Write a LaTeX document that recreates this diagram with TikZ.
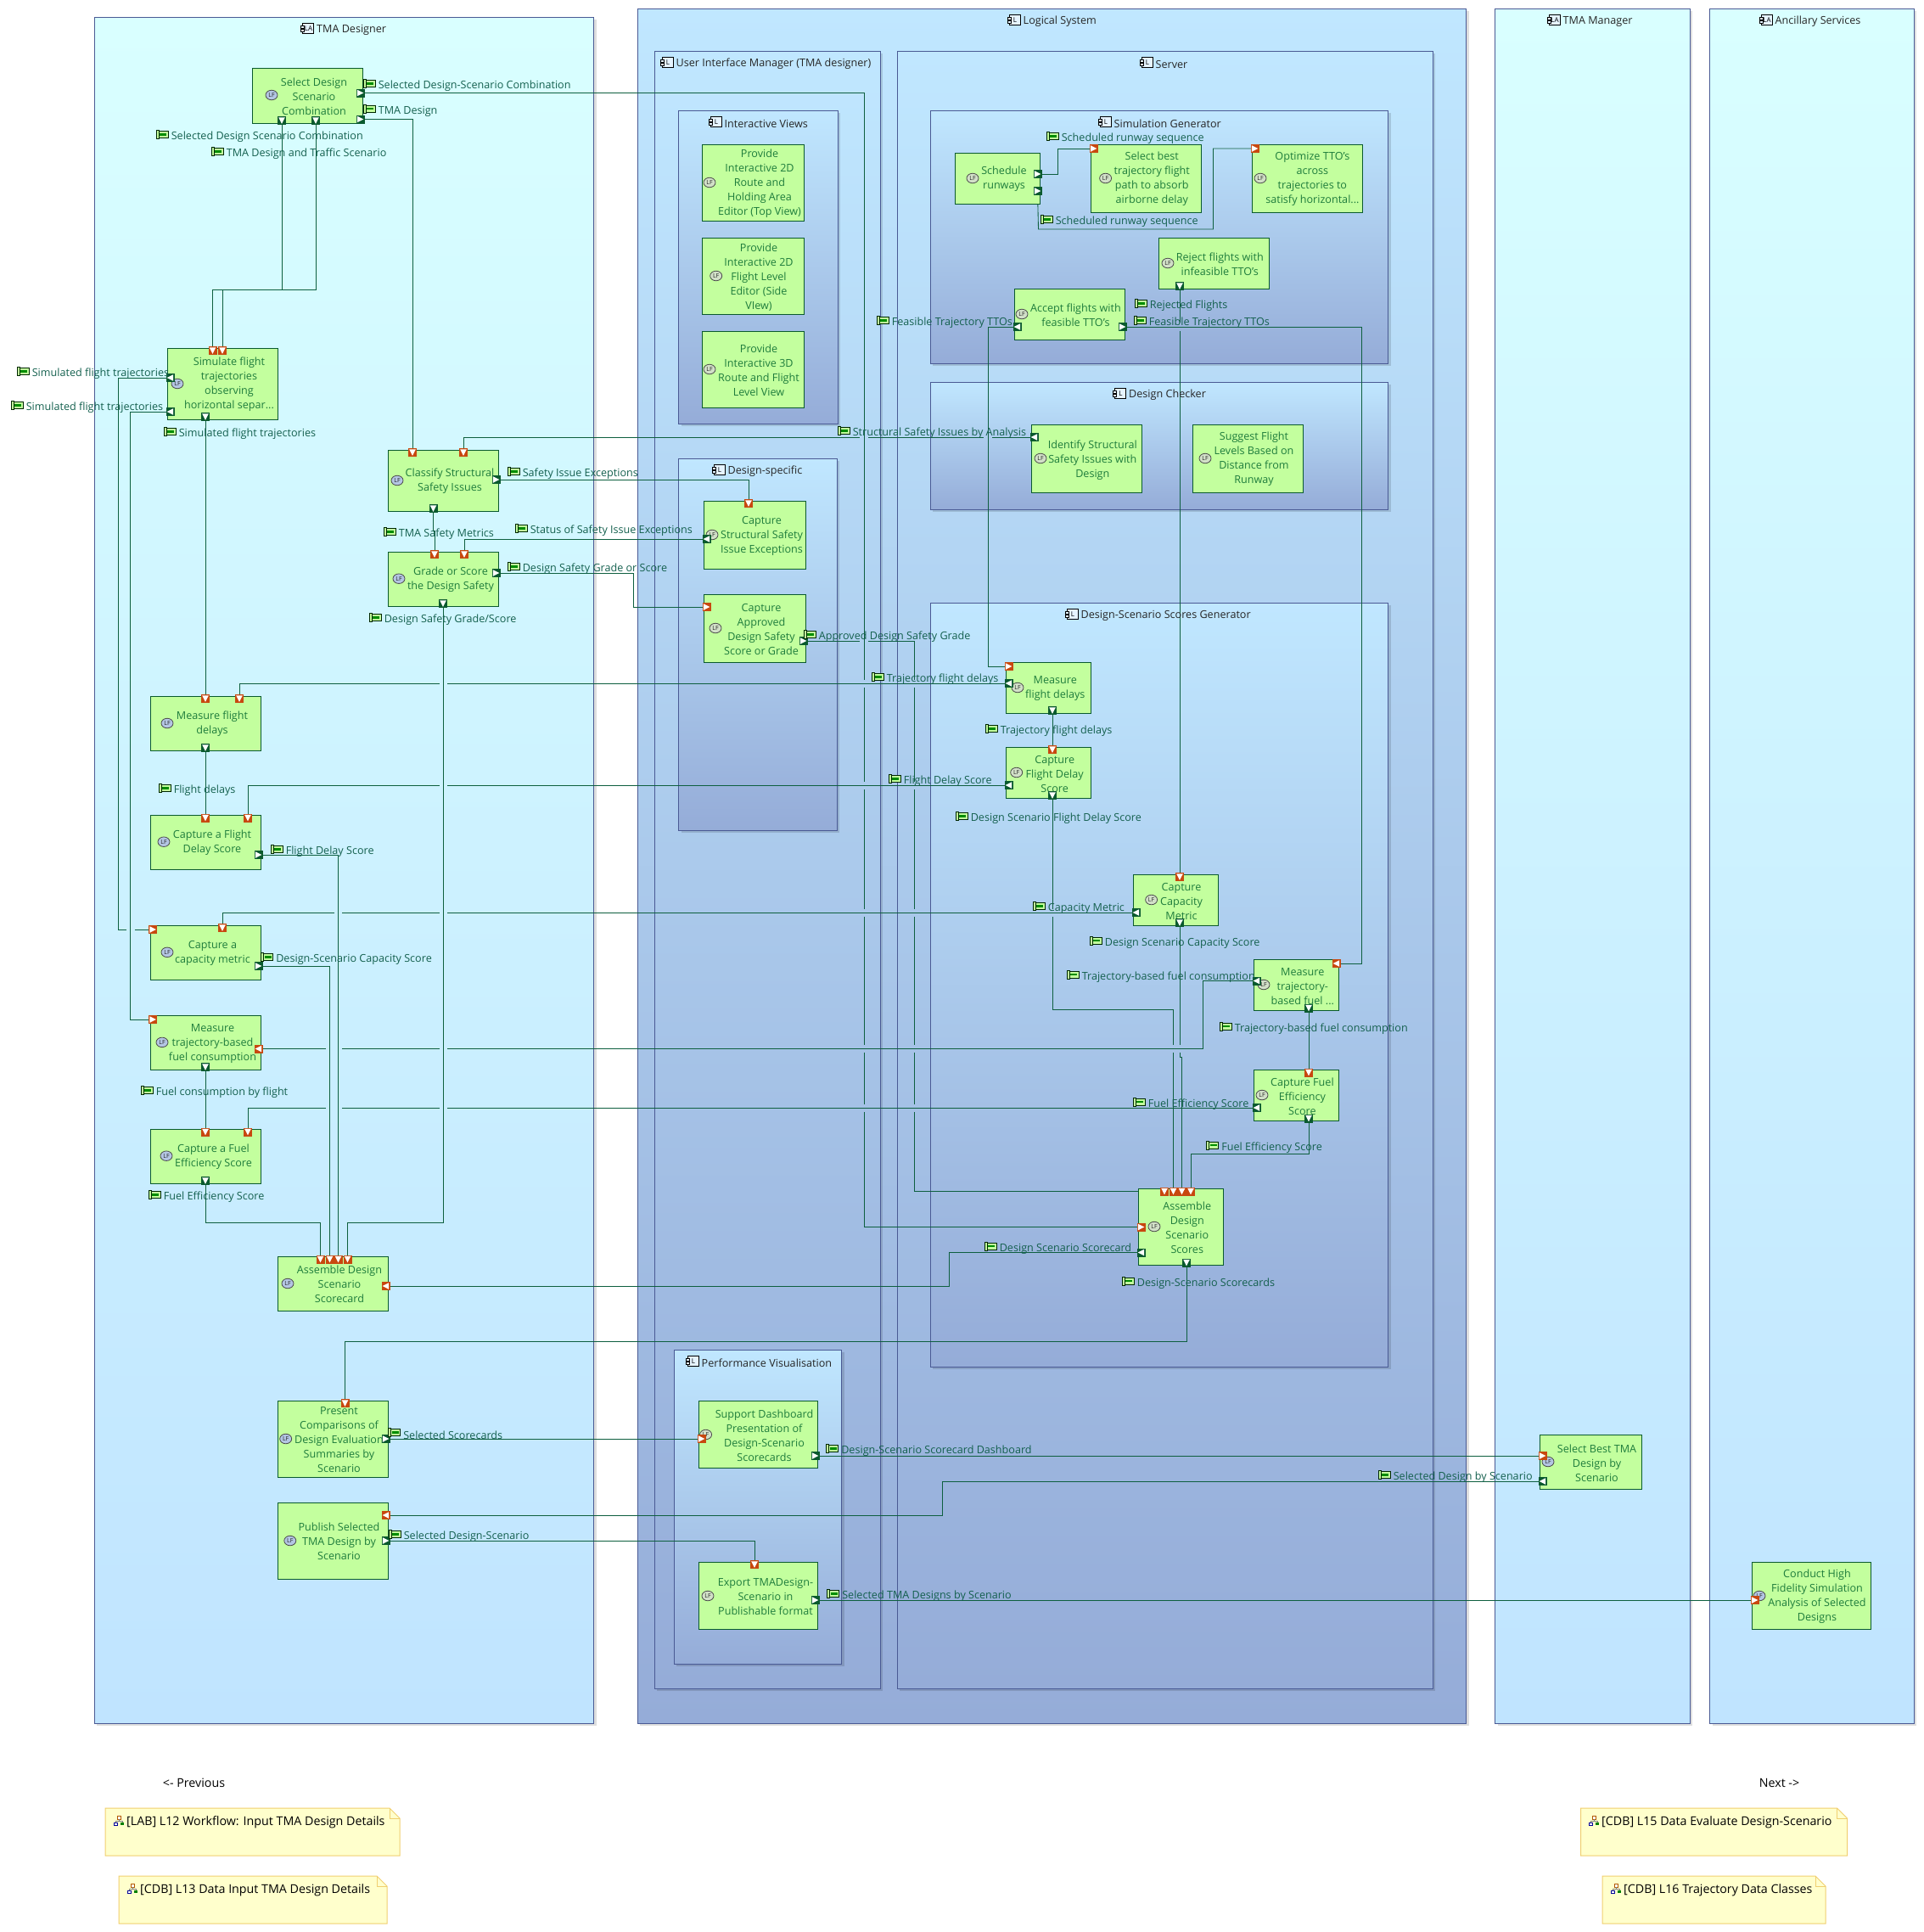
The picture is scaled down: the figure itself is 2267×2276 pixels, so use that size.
\documentclass[tikz,border=0pt]{standalone}
\usepackage{fontspec}
\setmainfont{Open Sans}
\usetikzlibrary{calc,shapes.geometric}
\definecolor{cborder}{HTML}{4A5A94}
\definecolor{lgttop}{HTML}{D9FFFF}
\definecolor{lgtbot}{HTML}{C0E4FF}
\definecolor{blutop}{HTML}{C0E7FF}
\definecolor{blubot}{HTML}{95ACD8}
\definecolor{boxfill}{HTML}{C3FF9E}
\definecolor{boxline}{HTML}{0A5A2E}
\definecolor{boxtext}{HTML}{1E7C3C}
\definecolor{labtext}{HTML}{14604E}
\definecolor{wire}{HTML}{0E5F3F}
\definecolor{portin}{HTML}{C8480F}
\definecolor{portout}{HTML}{0A5A2E}
\definecolor{notefill}{HTML}{FFFFCC}
\definecolor{noteline}{HTML}{F0CF70}
\definecolor{lfa}{HTML}{B4C6E4}
\definecolor{lfb}{HTML}{D2E0C8}
\definecolor{capfill}{HTML}{E6F4FF}
\pgfdeclarelayer{bg}
\pgfdeclarelayer{wires}
\pgfsetlayers{bg,wires,main}
\tikzset{
 ctn/.style={draw=cborder,line width=1pt,inner sep=0pt,outer sep=0pt},
 bxx/.style={draw=boxline,fill=boxfill,line width=1pt,inner sep=0pt,outer sep=0pt},
 bxt/.style={text=boxtext,align=center,inner sep=0pt,font=\fontsize{12.6}{17}\selectfont},
 lft/.style={ellipse,draw=black!70,line width=.8pt,minimum width=14pt,minimum height=11.5pt,inner sep=0pt,font=\fontsize{7}{7}\selectfont,text=black!85},
 prtn/.style={minimum size=10pt,inner sep=0pt,outer sep=0pt,draw=none},
 lbt/.style={text=labtext,anchor=west,inner sep=0pt,font=\fontsize{12.6}{14}\selectfont},
 ttl/.style={text=black!85,anchor=west,inner sep=0pt,font=\fontsize{12.6}{14}\selectfont},
 conn/.style={draw=wire,line width=.85pt},
 nte/.style={text=black,anchor=west,inner sep=0pt,font=\fontsize{14.25}{15}\selectfont},
 plain/.style={text=black,inner sep=0pt,font=\fontsize{14.25}{15}\selectfont}
}
% container: name, x1,y1,x2,y2, top, bottom
\newcommand\cont[7]{%
 \begin{pgfonlayer}{bg}
 \fill[black,fill opacity=.13] (#2+3,#3+3) rectangle (#4+3,#5+3);
 \node[ctn,top color=#6,bottom color=#7,minimum width={#4-#2},minimum height={#5-#3}] (#1) at ({(#2+#4)/2},{(#3+#5)/2}) {};
 \end{pgfonlayer}}
% container title: name, icon x, y, letter, text
\newcommand\ttlb[5]{%
 \fill[capfill,draw=black,line width=.8pt] (#2+2,#3-6.5) rectangle (#2+15,#3+5.5);
 \fill[capfill,draw=black,line width=.6pt] (#2,#3-3.5) rectangle (#2+4,#3-1);
 \fill[capfill,draw=black,line width=.6pt] (#2,#3+.5) rectangle (#2+4,#3+3);
 \node[font=\fontsize{8}{8}\selectfont,inner sep=0pt,text=black] at (#2+9,#3-.5) {#4};
 \node[ttl] (#1) at (#2+18.5,#3+1.5) {#5};}
% box: name,x1,y1,x2,y2,tx,ty,lx,ly,lfcolour,text
\newcommand\fbx[9]{\def\fbxa{#1}\def\fbxb{#6}\def\fbxc{#7}\def\fbxd{#8}\def\fbxe{#9}%
 \node[bxx,minimum width={#4-#2},minimum height={#5-#3}] (#1) at ({(#2+#4)/2},{(#3+#5)/2}) {};\fbxrest}
\newcommand\fbxrest[2]{%
 \node[lft,fill=#1] (\fbxa-lf) at (\fbxd,\fbxe) {LF};
 \node[bxt] (\fbxa-t) at (\fbxb,\fbxc) {#2};}
% port: name,x,y,angle,colour
\newcommand\prt[5]{%
 \node[prtn,fill=#5] (#1) at (#2,#3) {};
 \begin{scope}[shift={(#2,#3)},rotate=#4]\fill[white] (-3.6,-3.8) -- (3.8,0) -- (-3.6,3.8) -- cycle;\end{scope}}
% flow label: name, icon x, y, text
\newcommand\flab[4]{%
 \fill[boxfill,draw=black!85!green,line width=.9pt] (#2,#3-5.5) rectangle (#2+14,#3+2.5);
 \fill[green!55!black] (#2+4,#3-2.7) rectangle (#2+12,#3-.3);
 \fill[boxfill,draw=black!85!green,line width=.7pt] (#2,#3-6.5) rectangle (#2+3,#3+3.5);
 \node[lbt] (#1) at (#2+17.6,#3+1.5) {#4};}
% note: name,x1,y1,x2,y2, text x, text
\newcommand\notebox[7]{%
 \draw[noteline,fill=notefill,line width=1pt] (#2,#3) -- (#4-12,#3) -- (#4,#3+12) -- (#4,#5) -- (#2,#5) -- cycle;
 \draw[noteline,line width=1pt] (#4-12,#3) -- (#4-12,#3+12) -- (#4,#3+12);
 \draw[orange!70!black,line width=.5pt,fill=white] (#6-8,#3+9) rectangle (#6-4,#3+13);
 \draw[black!50,line width=.5pt] (#6-6,#3+13) -- (#6-6,#3+15) (#6-10,#3+17) -- (#6-10,#3+15) -- (#6-2,#3+15) -- (#6-2,#3+17);
 \draw[blue!60!black,line width=.5pt,fill=white] (#6-12,#3+17) rectangle (#6-8,#3+20);
 \fill[green!50!black] (#6-4,#3+17) rectangle (#6,#3+20);
 \node[nte] (#1) at (#6+3,#3+17) {#7};}
\begin{document}
\begin{tikzpicture}[x=1pt,y=-1pt]
\useasboundingbox (0,0) rectangle (2267,2276);
% containers
\cont{cDes}{111}{20}{699.5}{2030}{lgttop}{lgtbot}
\cont{cLog}{751}{10}{1727.5}{2030}{blutop}{blubot}
\cont{cMgr}{1761.5}{10}{1991}{2030}{lgttop}{lgtbot}
\cont{cAnc}{2014.5}{10}{2255}{2030}{lgttop}{lgtbot}
\cont{cUI}{771}{60}{1037}{1989}{blutop}{blubot}
\cont{cSrv}{1057}{60}{1688}{1989}{blutop}{blubot}
\cont{cIV}{799.5}{130}{987}{499}{blutop}{blubot}
\cont{cDS}{799.5}{540}{986}{978}{blutop}{blubot}
\cont{cPV}{794}{1590}{991.5}{1960}{blutop}{blubot}
\cont{cSG}{1096}{130}{1635.5}{428}{blutop}{blubot}
\cont{cDC}{1096}{450}{1635.5}{600}{blutop}{blubot}
\cont{cSC}{1096}{710}{1635.5}{1610}{blutop}{blubot}
% titles
\ttlb{tDes}{354.5}{34}{LA}{TMA Designer}
\ttlb{tLog}{1187}{24}{L}{Logical System}
\ttlb{tMgr}{1823}{24}{LA}{TMA Manager}
\ttlb{tAnc}{2073}{24}{LA}{Ancillary Services}
\ttlb{tUI}{778}{74}{L}{User Interface Manager (TMA designer)}
\ttlb{tSrv}{1343}{74}{L}{Server}
\ttlb{tIV}{835}{144}{L}{Interactive Views}
\ttlb{tSG}{1294}{144}{L}{Simulation Generator}
\ttlb{tDC}{1311.5}{464}{L}{Design Checker}
\ttlb{tDS}{839}{554}{L}{Design-specific}
\ttlb{tSC}{1255}{724}{L}{Design-Scenario Scores Generator}
\ttlb{tPV}{808}{1604}{L}{Performance Visualisation}
% boxes TMA designer
\fbx{sd}{297.5}{80}{427.5}{145}{370}{113.5}{320}{112}{lfa}{Select Design\\Scenario\\Combination}
\fbx{sim}{197.5}{410}{327.5}{494}{270}{453}{209}{452}{lfa}{Simulate flight\\trajectories\\observing\\horizontal separ...}
\fbx{cls}{457.5}{530}{587.5}{602}{530}{567}{468}{566}{lfa}{Classify Structural\\Safety Issues}
\fbx{grd}{457.5}{650}{587.5}{714}{531}{683}{470}{681.7}{lfa}{Grade or Score\\the Design Safety}
\fbx{mfl}{177.5}{820}{307.5}{884}{250}{853}{197}{852}{lfa}{Measure flight\\delays}
\fbx{cfl}{177.5}{960.5}{307.5}{1024.5}{250}{993}{193}{991.7}{lfa}{Capture a Flight\\Delay Score}
\fbx{ccp}{177.5}{1090}{307.5}{1154}{250.5}{1123}{197}{1121.8}{lfa}{Capture a\\capacity metric}
\fbx{mtr}{177.5}{1196}{307.5}{1260}{250.5}{1229.5}{191}{1227.9}{lfa}{Measure\\trajectory-based\\fuel consumption}
\fbx{cfe}{177.5}{1330.5}{307.5}{1394.5}{251.5}{1363}{196}{1361.7}{lfa}{Capture a Fuel\\Efficiency Score}
\fbx{asc}{327.5}{1480.5}{457.5}{1544.5}{400}{1513}{339}{1512}{lfa}{Assemble Design\\Scenario\\Scorecard}
\fbx{pre}{327.5}{1650}{457.5}{1740}{399.5}{1695.7}{336.7}{1695}{lfa}{Present\\Comparisons of\\Design Evaluation\\Summaries by\\Scenario}
\fbx{pub}{327.5}{1770}{457.5}{1860}{399.5}{1815.7}{341.8}{1815}{lfa}{Publish Selected\\TMA Design by\\Scenario}
% boxes UI
\fbx{pr1}{827.5}{170}{947.5}{260}{895}{216.7}{836}{215}{lfb}{Provide\\Interactive 2D\\Route and\\Holding Area\\Editor (Top View)}
\fbx{pr2}{827.5}{280}{947.5}{370}{894}{326.7}{843.7}{325}{lfb}{Provide\\Interactive 2D\\Flight Level\\Editor (Side\\VIew)}
\fbx{pr3}{827.5}{390}{947.5}{480}{894}{436}{836}{435}{lfb}{Provide\\Interactive 3D\\Route and Flight\\Level View}
\fbx{cst}{829.5}{590}{949.5}{670}{897.5}{631.7}{839}{630}{lfb}{Capture\\Structural Safety\\Issue Exceptions}
\fbx{cap}{829.5}{700}{949.5}{780}{897}{741}{843}{740}{lfb}{Capture\\Approved\\Design Safety\\Score or Grade}
\fbx{sup}{823.5}{1650}{963.5}{1729.5}{900.5}{1691}{831.6}{1690}{lfb}{Support Dashboard\\Presentation of\\Design-Scenario\\Scorecards}
\fbx{exp}{823.5}{1840}{963.5}{1919.5}{902}{1880.7}{834}{1880}{lfb}{Export TMADesign-\\Scenario in\\Publishable format}
% boxes server
\fbx{sch}{1125.5}{180}{1225.5}{240}{1183}{211}{1146}{210}{lfb}{Schedule\\runways}
\fbx{sel}{1285.5}{170}{1415.5}{250}{1357.3}{211}{1302.6}{210}{lfb}{Select best\\trajectory flight\\path to absorb\\airborne delay}
\fbx{opt}{1475.5}{170}{1605.5}{250}{1546.4}{211}{1485}{210}{lfb}{Optimize TTO's\\across\\trajectories to\\satisfy horizontal...}
\fbx{rej}{1365.5}{280}{1495.5}{340}{1437.3}{311}{1376}{310}{lfb}{Reject flights with\\infeasible TTO's}
\fbx{acc}{1195.5}{340}{1325.5}{400}{1267.4}{371}{1204}{370}{lfb}{Accept flights with\\feasible TTO's}
\fbx{ide}{1215.5}{500}{1345.5}{580}{1287.3}{541.7}{1226}{540}{lfb}{Identify Structural\\Safety Issues with\\Design}
\fbx{sug}{1405.5}{500}{1535.5}{580}{1477.5}{541}{1420}{540}{lfb}{Suggest Flight\\Levels Based on\\Distance from\\Runway}
\fbx{sm}{1185.5}{780}{1285.5}{840}{1243.3}{811}{1199}{810}{lfb}{Measure\\flight delays}
\fbx{cd}{1185.5}{880}{1285.5}{940}{1242.7}{911.7}{1197.7}{910}{lfb}{Capture\\Flight Delay\\Score}
\fbx{cc}{1335.5}{1030}{1435.5}{1090}{1392}{1061.8}{1356.6}{1060}{lfb}{Capture\\Capacity\\Metric}
\fbx{mt}{1477.5}{1130.5}{1577.5}{1190.5}{1534.8}{1161.8}{1489}{1160}{lfb}{Measure\\trajectory-\\based fuel ...}
\fbx{cf}{1477.5}{1260.5}{1577.5}{1320.5}{1534.4}{1291.6}{1487}{1290}{lfb}{Capture Fuel\\Efficiency\\Score}
\fbx{as}{1341.5}{1400.5}{1441.5}{1490.5}{1398.8}{1446.3}{1360}{1445}{lfb}{Assemble\\Design\\Scenario\\Scores}
% boxes other
\fbx{bt}{1814.5}{1690.5}{1934.5}{1754.5}{1881.5}{1723.6}{1824}{1722}{lfa}{Select Best TMA\\Design by\\Scenario}
\fbx{con}{2064.5}{1840.5}{2204.5}{1919.5}{2141}{1881}{2073}{1880}{lfa}{Conduct High\\Fidelity Simulation\\Analysis of Selected\\Designs}
% ports
\def\rr{0}\def\ll{180}\def\dd{-90}
\prt{sdr1}{424.5}{109.5}{\rr}{portout}
\prt{sdr2}{424.5}{140.5}{\rr}{portout}
\prt{sdb1}{332}{142}{\dd}{portout}
\prt{sdb2}{372}{142}{\dd}{portout}
\prt{simt1}{250.5}{413}{\dd}{portin}
\prt{simt2}{262}{413}{\dd}{portin}
\prt{siml1}{200.5}{445}{\ll}{portout}
\prt{siml2}{200.5}{485}{\ll}{portout}
\prt{simb}{242}{491}{\dd}{portout}
\prt{clst1}{486}{533}{\dd}{portin}
\prt{clst2}{546}{533}{\dd}{portin}
\prt{clsr}{584.5}{565}{\rr}{portout}
\prt{clsb}{510.5}{599}{\dd}{portout}
\prt{grdt1}{512}{653}{\dd}{portin}
\prt{grdt2}{547}{653}{\dd}{portin}
\prt{grdr}{584.5}{675}{\rr}{portout}
\prt{grdb}{522}{711}{\dd}{portout}
\prt{mflt1}{242}{823}{\dd}{portin}
\prt{mflt2}{282}{823}{\dd}{portin}
\prt{mflb}{242}{881}{\dd}{portout}
\prt{cflt1}{242}{963.5}{\dd}{portin}
\prt{cflt2}{292}{963.5}{\dd}{portin}
\prt{cflr}{304.5}{1007}{\rr}{portout}
\prt{ccpl}{180}{1095}{\rr}{portin}
\prt{ccpt}{262}{1093}{\dd}{portin}
\prt{ccpr}{304.5}{1138}{\rr}{portout}
\prt{mtrl}{180}{1201}{\rr}{portin}
\prt{mtrr}{304.5}{1235.5}{\ll}{portin}
\prt{mtrb}{242}{1257}{\dd}{portout}
\prt{cfet1}{242}{1333.5}{\dd}{portin}
\prt{cfet2}{292}{1333.5}{\dd}{portin}
\prt{cfeb}{242}{1391}{\dd}{portout}
\prt{asct1}{377.5}{1483.5}{\dd}{portin}
\prt{asct2}{388.5}{1483.5}{\dd}{portin}
\prt{asct3}{398.5}{1483.5}{\dd}{portin}
\prt{asct4}{409.5}{1483.5}{\dd}{portin}
\prt{ascr}{454.5}{1515}{\ll}{portin}
\prt{pret}{406.5}{1653}{\dd}{portin}
\prt{prer}{454.5}{1695}{\rr}{portout}
\prt{pubr1}{454.5}{1785}{\ll}{portin}
\prt{pubr2}{454.5}{1815}{\rr}{portout}
\prt{cstt}{882}{593}{\dd}{portin}
\prt{cstl}{832.5}{635}{\ll}{portout}
\prt{capl}{832.5}{715}{\rr}{portin}
\prt{capr}{946.5}{755}{\rr}{portout}
\prt{supl}{826.5}{1695}{\rr}{portin}
\prt{supr}{960.5}{1715}{\rr}{portout}
\prt{expt}{889}{1843}{\dd}{portin}
\prt{expr}{960.5}{1885}{\rr}{portout}
\prt{schr1}{1222.5}{205}{\rr}{portout}
\prt{schr2}{1222.5}{225}{\rr}{portout}
\prt{sell}{1288.5}{175}{\rr}{portin}
\prt{optl}{1478.5}{175}{\rr}{portin}
\prt{rejb}{1390}{337}{\dd}{portout}
\prt{accl}{1198.5}{385}{\ll}{portout}
\prt{accr}{1322.5}{385}{\rr}{portout}
\prt{idel}{1218.5}{515}{\ll}{portout}
\prt{sml1}{1188.5}{785}{\rr}{portin}
\prt{sml2}{1188.5}{805}{\ll}{portout}
\prt{smb}{1240}{837}{\dd}{portout}
\prt{cdt}{1240}{883}{\dd}{portin}
\prt{cdl}{1188.5}{925}{\ll}{portout}
\prt{cdb}{1240}{937}{\dd}{portout}
\prt{cct}{1390}{1033}{\dd}{portin}
\prt{ccl}{1338.5}{1075}{\ll}{portout}
\prt{ccb}{1390}{1087}{\dd}{portout}
\prt{mtr2}{1574.5}{1135}{\ll}{portin}
\prt{mtl}{1480.5}{1155.5}{\ll}{portout}
\prt{mtb}{1542}{1187.5}{\dd}{portout}
\prt{cft}{1542}{1263.5}{\dd}{portin}
\prt{cfl2}{1480.5}{1305}{\ll}{portout}
\prt{cfb}{1542}{1317.5}{\dd}{portout}
\prt{ast1}{1372}{1403.5}{\dd}{portin}
\prt{ast2}{1382.5}{1403.5}{\dd}{portin}
\prt{ast3}{1392.5}{1403.5}{\dd}{portin}
\prt{ast4}{1403}{1403.5}{\dd}{portin}
\prt{asl1}{1344.5}{1445.5}{\rr}{portin}
\prt{asl2}{1344.5}{1475.5}{\ll}{portout}
\prt{asb}{1398}{1487.5}{\dd}{portout}
\prt{btl1}{1817.5}{1715}{\rr}{portin}
\prt{btl2}{1817.5}{1745}{\ll}{portout}
\prt{conl}{2067.5}{1885}{\rr}{portin}
% connectors
\begin{pgfonlayer}{wires}
\draw[conn] (sdr1.center) -- (1018,109.5) -- (1018,800.5) (1018,810) -- (1018,920.5) (1018,930) -- (1018,1070.5) (1018,1080) -- (1018,1230.5) (1018,1240) -- (1018,1300.5) (1018,1310) -- (1018,1445.5) -- (asl1.center);
\draw[conn] (sdr2.center) -- (486,140.5) -- (clst1.center);
\draw[conn] (sdb1.center) -- (332,341.5) -- (262,341.5) -- (simt2.center);
\draw[conn] (sdb2.center) -- (372,341.5) -- (250.5,341.5) -- (simt1.center);
\draw[conn] (simb.center) -- (mflt1.center);
\draw[conn] (siml1.center) -- (139.5,445) -- (139.5,1095) -- (149,1095) (158.5,1095) -- (ccpl.center);
\draw[conn] (siml2.center) -- (153.5,485) -- (153.5,1201) -- (mtrl.center);
\draw[conn] (clsb.center) -- (510.5,625) -- (512,625) -- (grdt1.center);
\draw[conn] (clst2.center) -- (546,515) -- (1013,515) (1023,515) -- (1159,515) (1169,515) -- (idel.center);
\draw[conn] (clsr.center) -- (882,565) -- (cstt.center);
\draw[conn] (cstl.center) -- (547,635) -- (grdt2.center);
\draw[conn] (grdr.center) -- (746.5,675) -- (746.5,715) -- (capl.center);
\draw[conn] (capr.center) -- (1013,755) (1023,755) -- (1077.5,755) -- (1077.5,800.5) (1077.5,810) -- (1077.5,920.5) (1077.5,930) -- (1077.5,1070.5) (1077.5,1080) -- (1077.5,1230.5) (1077.5,1240) -- (1077.5,1300.5) (1077.5,1310) -- (1077.5,1403.5) -- (ast1.center);
\draw[conn] (grdb.center) -- (522,1440.5) -- (409.5,1440.5) -- (asct4.center);
\draw[conn] (cfeb.center) -- (242,1440.5) -- (377.5,1440.5) -- (asct1.center);
\draw[conn] (ccpr.center) -- (388.5,1138) -- (asct2.center);
\draw[conn] (cflr.center) -- (398.5,1007) -- (asct3.center);
\draw[conn] (mflt2.center) -- (282,805) -- (517.5,805) (527,805) -- (sml2.center);
\draw[conn] (mflb.center) -- (cflt1.center);
\draw[conn] (cflt2.center) -- (292,925) -- (517.5,925) (527,925) -- (cdl.center);
\draw[conn] (ccpt.center) -- (262,1075) -- (394,1075) (403,1075) -- (517.5,1075) (527,1075) -- (ccl.center);
\draw[conn] (mtrr.center) -- (383.5,1235.5) (403,1235.5) -- (517.5,1235.5) (527,1235.5) -- (1417.5,1235.5) -- (1417.5,1155.5) -- (mtl.center);
\draw[conn] (mtrb.center) -- (cfet1.center);
\draw[conn] (cfet2.center) -- (292,1305) -- (383.5,1305) (403,1305) -- (517.5,1305) (527,1305) -- (cfl2.center);
\draw[conn] (schr1.center) -- (1246.5,205) -- (1246.5,175) -- (sell.center);
\draw[conn] (schr2.center) -- (1223.5,270) -- (1429.5,270) -- (1429.5,175) -- (optl.center);
\draw[conn] (rejb.center) -- (1390,380) (1390,390) -- (cct.center);
\draw[conn] (accl.center) -- (1164.5,385) -- (1164.5,785) -- (sml1.center);
\draw[conn] (accr.center) -- (1604.5,385) -- (1604.5,1135) -- (mtr2.center);
\draw[conn] (smb.center) -- (cdt.center);
\draw[conn] (cdb.center) -- (1240,1070.5) (1240,1080) -- (1240,1189.5) -- (1382.5,1189.5) -- (1382.5,1230.5) (1382.5,1240) -- (ast2.center);
\draw[conn] (ccb.center) -- (1390,1230.5) (1390,1240) -- (1390,1245) -- (1392.5,1245) -- (ast3.center);
\draw[conn] (mtb.center) -- (cft.center);
\draw[conn] (cfb.center) -- (1542,1359.5) -- (1403,1359.5) -- (ast4.center);
\draw[conn] (asl2.center) -- (1118.5,1475.5) -- (1118.5,1515) -- (ascr.center);
\draw[conn] (asb.center) -- (1398,1580) -- (406.5,1580) -- (pret.center);
\draw[conn] (prer.center) -- (supl.center);
\draw[conn] (supr.center) -- (btl1.center);
\draw[conn] (btl2.center) -- (1110.5,1745) -- (1110.5,1785) -- (pubr1.center);
\draw[conn] (pubr2.center) -- (889,1815) -- (expt.center);
\draw[conn] (expr.center) -- (conl.center);
\end{pgfonlayer}
% labels
\flab{l1}{428}{100}{Selected Design-Scenario Combination}
\flab{l2}{428}{129.5}{TMA Design}
\flab{l3}{184}{160}{Selected Design Scenario Combination}
\flab{l4}{249}{180}{TMA Design and Traffic Scenario}
\flab{l5}{20}{439}{Simulated flight trajectories}
\flab{l6}{13}{479}{Simulated flight trajectories}
\flab{l7}{193}{510}{Simulated flight trajectories}
\flab{l8}{598}{557}{Safety Issue Exceptions}
\flab{l9}{607}{624}{Status of Safety Issue Exceptions}
\flab{l10}{452}{628}{TMA Safety Metrics}
\flab{l11}{598}{669}{Design Safety Grade or Score}
\flab{l12}{435}{729}{Design Safety Grade/Score}
\flab{l13}{947}{749}{Approved Design Safety Grade}
\flab{l14}{987}{509}{Structural Safety Issues by Analysis}
\flab{l15}{1033}{379}{Feasible Trajectory TTOs}
\flab{l16}{1233}{162}{Scheduled runway sequence}
\flab{l17}{1226}{260}{Scheduled runway sequence}
\flab{l18}{1337}{359}{Rejected Flights}
\flab{l19}{1336}{379}{Feasible Trajectory TTOs}
\flab{l20}{1027}{799}{Trajectory flight delays}
\flab{l21}{1161}{860}{Trajectory flight delays}
\flab{l22}{1047}{919}{Flight Delay Score}
\flab{l23}{1126}{963}{Design Scenario Flight Delay Score}
\flab{l24}{1217}{1069}{Capacity Metric}
\flab{l25}{1284}{1109.5}{Design Scenario Capacity Score}
\flab{l26}{1257}{1149.5}{Trajectory-based fuel consumption}
\flab{l27}{1437}{1210.5}{Trajectory-based fuel consumption}
\flab{l28}{1335}{1299.5}{Fuel Efficiency Score}
\flab{l29}{1421.5}{1350.5}{Fuel Efficiency Score}
\flab{l30}{1160}{1469.5}{Design Scenario Scorecard}
\flab{l31}{1322}{1510.5}{Design-Scenario Scorecards}
\flab{l32}{187}{930}{Flight delays}
\flab{l33}{319}{1002}{Flight Delay Score}
\flab{l34}{307.5}{1129}{Design-Scenario Capacity Score}
\flab{l35}{166}{1286}{Fuel consumption by flight}
\flab{l36}{175}{1409}{Fuel Efficiency Score}
\flab{l37}{457.5}{1689}{Selected Scorecards}
\flab{l38}{458}{1809}{Selected Design-Scenario}
\flab{l39}{973.5}{1708}{Design-Scenario Scorecard Dashboard}
\flab{l40}{974.5}{1879}{Selected TMA Designs by Scenario}
\flab{l41}{1624}{1739}{Selected Design by Scenario}
% notes
\notebox{n1}{124}{2130}{471}{2186}{146}{[LAB] L12 Workflow: Input TMA Design Details}
\notebox{n2}{140}{2210}{456}{2266}{162}{[CDB] L13 Data Input TMA Design Details}
\notebox{n3}{1862.5}{2130}{2176.5}{2186}{1884}{[CDB] L15 Data Evaluate Design-Scenario}
\notebox{n4}{1888}{2210}{2151}{2266}{1910}{[CDB] L16 Trajectory Data Classes}
\node[plain] (prev) at (228.5,2100.5) {<- Previous};
\node[plain] (next) at (2096.5,2100.5) {Next ->};
\end{tikzpicture}
\end{document}
